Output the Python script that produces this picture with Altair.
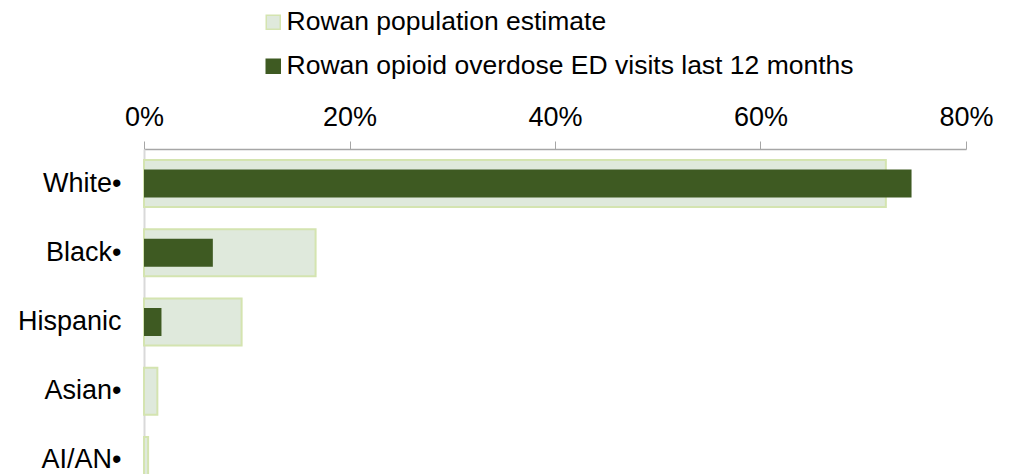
import altair as alt
import pandas as pd

groups = ["White•", "Black•", "Hispanic", "Asian•", "AI/AN•"]
population = [72.2, 16.7, 9.5, 1.3, 0.4]
ed_visits = [74.7, 6.7, 1.7, 0.0, 0.0]
series = ["Rowan population estimate", "Rowan opioid overdose ED visits last 12 months"]
tick_values = [0, 20, 40, 60, 80]

rows = []
for g, p, e in zip(groups, population, ed_visits):
    rows.append({"group": g, "series": series[0], "value": p / 100})
    rows.append({"group": g, "series": series[1], "value": e / 100})
df = pd.DataFrame(rows)

FONT = "Liberation Sans"
fill_scale = alt.Scale(domain=series, range=["#dfe9dc", "#3e5a22"])
stroke_scale = alt.Scale(domain=series, range=["#d4e4b0", "#3e5a22"])

legend = alt.Legend(
    title=None, orient="none", legendX=116, legendY=-140,
    direction="vertical", labelFontSize=26.5, labelFont=FONT, labelColor="#000000",
    symbolType="square", symbolSize=196, symbolStrokeWidth=1.5,
    rowPadding=17, labelOffset=0, labelLimit=800,
)

x = alt.X(
    "value:Q", title=None,
    scale=alt.Scale(domain=[0, 0.8], nice=False),
    axis=alt.Axis(
        orient="top", format=".0%", values=[v / 100 for v in tick_values], grid=False,
        tickSize=8, tickColor="#a6a6a6", domainColor="#a6a6a6", domainWidth=1.5,
        labelPadding=10, labelFontSize=27, labelFont=FONT, labelColor="#000000",
        labelFlush=False, labelOverlap=False, labelBound=False,
    ),
)
y = alt.Y(
    "group:N", sort=groups, title=None,
    scale=alt.Scale(paddingInner=0, paddingOuter=0),
    axis=alt.Axis(
        ticks=False, labelPadding=23, domainColor="#d9d9d9", domainWidth=2,
        labelFontSize=27, labelFont=FONT, labelColor="#000000",
    ),
)

base = alt.Chart(df)
pop = base.transform_filter(alt.datum.series == series[0]).mark_bar(size=47, strokeWidth=2).encode(
    x=x, y=y,
    color=alt.Color("series:N", scale=fill_scale, legend=legend, sort=series),
    stroke=alt.Stroke("series:N", scale=stroke_scale, legend=legend, sort=series),
)
ed = base.transform_filter(alt.datum.series == series[1]).mark_bar(size=28, strokeWidth=0).encode(
    x=x, y=y,
    color=alt.Color("series:N", scale=fill_scale, legend=legend, sort=series),
    stroke=alt.Stroke("series:N", scale=stroke_scale, legend=legend, sort=series),
)

chart = alt.layer(pop, ed).properties(
    width=822, height=346,
    autosize=alt.AutoSizeParams(type="none"),
    padding={"left": 136, "top": 141, "right": 40, "bottom": 0},
    background="white",
).configure_view(stroke=None)

chart.save("out.html", embed_options={"renderer": "svg", "actions": False})
